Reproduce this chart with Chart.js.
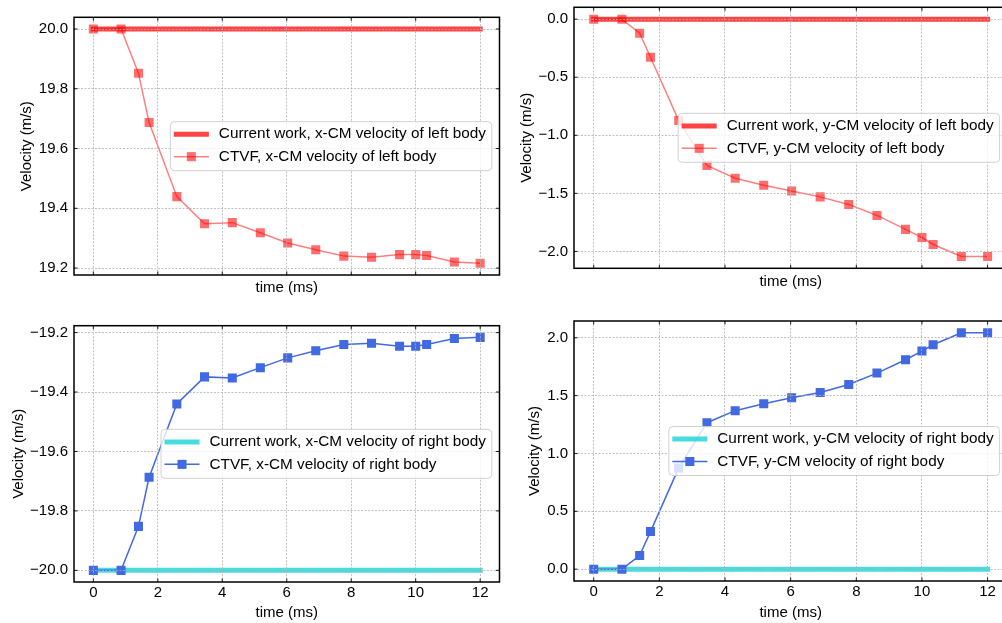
<!DOCTYPE html>
<html lang="en">
<head>
<meta charset="UTF-8" />
<title>CM velocity: current work vs CTVF</title>
<script src="https://cdn.jsdelivr.net/npm/chart.js@4.4.1/dist/chart.umd.min.js"></script>
<style>
  body { margin: 0; background: #fff; overflow: hidden; }
  #wrap { position: relative; width: 1002px; height: 623px; overflow: hidden; }
  canvas { position: absolute; }
</style>
</head>
<body>
<div id="wrap">
  <canvas id="tl" width="502" height="300" style="left:0;top:0;width:502px;height:300px"></canvas>
  <canvas id="tr" width="510" height="300" style="left:500px;top:0;width:510px;height:300px"></canvas>
  <canvas id="bl" width="502" height="323" style="left:0;top:300px;width:502px;height:323px"></canvas>
  <canvas id="br" width="510" height="323" style="left:500px;top:300px;width:510px;height:323px"></canvas>
</div>
<script>
// sample times (ms) of the CTVF runs
const times = [0, 0.86, 1.4, 1.73, 2.59, 3.45, 4.31, 5.18, 6.03, 6.9, 7.77, 8.63, 9.5, 10.0, 10.34, 11.2, 12.0];

// CTVF velocities (m/s)
const xLeftCTVF  = [20.0, 20.0, 19.852, 19.687, 19.439, 19.348, 19.352, 19.318, 19.284, 19.261, 19.240, 19.236, 19.245, 19.245, 19.242, 19.220, 19.216];
const yLeftCTVF  = [0.0, 0.0, -0.121, -0.328, -0.873, -1.26, -1.37, -1.43, -1.48, -1.53, -1.595, -1.69, -1.81, -1.88, -1.94, -2.043, -2.043];
const xRightCTVF = [-20.0, -20.0, -19.852, -19.687, -19.440, -19.349, -19.353, -19.318, -19.285, -19.261, -19.240, -19.236, -19.246, -19.246, -19.240, -19.220, -19.216];
const yRightCTVF = [0.0, 0.0, 0.118, 0.325, 0.875, 1.266, 1.37, 1.43, 1.482, 1.528, 1.597, 1.695, 1.81, 1.885, 1.94, 2.043, 2.043];

// current work (constant over the run)
const currentTimes  = [0, 12];
const xLeftCurrent  = [20.0, 20.0];
const yLeftCurrent  = [0.0, 0.0];
const xRightCurrent = [-20.0, -20.0];
const yRightCurrent = [0.0, 0.0];

// tick labels
const xTicks = [0, 2, 4, 6, 8, 10, 12];
const yTicksTL = [19.2, 19.4, 19.6, 19.8, 20.0];
const yTicksTR = [-2.0, -1.5, -1.0, -0.5, 0.0];
const yTicksBL = [-20.0, -19.8, -19.6, -19.4, -19.2];
const yTicksBR = [0.0, 0.5, 1.0, 1.5, 2.0];

const FONT = '"Liberation Sans", Arial, Helvetica, sans-serif';
Chart.defaults.font.family = FONT;
Chart.defaults.font.size = 15;
Chart.defaults.color = '#000';

const RED_THICK = 'rgba(255,0,0,0.74)';
const RED_LINE = 'rgba(255,0,0,0.5)';
const RED_MARK = 'rgba(255,0,0,0.57)';
const BLUE = 'rgb(65,105,225)';
const CYAN_THICK = 'rgba(0,206,209,0.72)';

// frame + inward ticks like matplotlib, then the legend box on top
const framePlugin = {
  id: 'frame',
  afterDraw(chart) {
    const ctx = chart.ctx;
    const a = chart.chartArea;
    const xs = chart.scales.x, ys = chart.scales.y;
    ctx.save();
    ctx.strokeStyle = '#000';
    ctx.lineWidth = 0.9;
    ctx.beginPath();
    xs.ticks.forEach(t => {
      const p = xs.getPixelForValue(t.value);
      ctx.moveTo(p, a.bottom); ctx.lineTo(p, a.bottom - 3.5);
      ctx.moveTo(p, a.top); ctx.lineTo(p, a.top + 3.5);
    });
    ys.ticks.forEach(t => {
      const p = ys.getPixelForValue(t.value);
      ctx.moveTo(a.left, p); ctx.lineTo(a.left + 3.5, p);
      ctx.moveTo(a.right, p); ctx.lineTo(a.right - 3.5, p);
    });
    ctx.stroke();
    ctx.lineWidth = 1.5;
    ctx.strokeRect(a.left, a.top, a.right - a.left, a.bottom - a.top);

    // legend, center right
    const ds = chart.data.datasets;
    ctx.font = '15.3px ' + FONT;
    const tw = Math.max(...ds.map(d => ctx.measureText(d.label).width));
    const w = 3.5 + 35 + 10 + tw + 6, h = 49;
    const right = a.right - 7.7;
    const left = right - w;
    const top = (a.top + a.bottom) / 2 - h / 2;
    ctx.beginPath();
    ctx.roundRect(left, top, w, h, 4);
    ctx.fillStyle = 'rgba(255,255,255,0.8)';
    ctx.fill();
    ctx.lineWidth = 1;
    ctx.strokeStyle = 'rgba(204,204,204,0.9)';
    ctx.stroke();
    ds.forEach((d, i) => {
      const y = top + 12.6 + i * 22.4;
      const x0 = left + 3.5, x1 = x0 + 35;
      ctx.beginPath();
      ctx.lineWidth = d.borderWidth;
      ctx.strokeStyle = d.borderColor;
      ctx.moveTo(x0, y); ctx.lineTo(x1, y);
      ctx.stroke();
      if (d.pointRadius > 0) {
        const s = d.pointRadius * Math.SQRT1_2;
        ctx.fillStyle = d.pointBackgroundColor;
        ctx.fillRect((x0 + x1) / 2 - s, y - s, 2 * s, 2 * s);
      }
      ctx.fillStyle = '#000';
      ctx.textBaseline = 'middle';
      ctx.textAlign = 'left';
      ctx.fillText(d.label, x1 + 10, y);
    });
    ctx.restore();
  }
};

function fmt(v) {
  return (v < 0 ? '\u2212' : '') + Math.abs(v).toFixed(1);
}

function panel(id, o) {
  const pts = (xs, ys) => xs.map((x, i) => ({ x: x, y: ys[i] }));
  const all = o.current.concat(o.ctvf);
  const lo = Math.min(...all), hi = Math.max(...all), m = (hi - lo) * 0.05;
  const canvas = document.getElementById(id);
  const H = canvas.height;
  new Chart(canvas, {
    type: 'line',
    data: {
      datasets: [
        {
          label: o.labels[0],
          data: pts(currentTimes, o.current),
          borderColor: o.thick,
          borderWidth: 5,
          borderCapStyle: 'square',
          pointRadius: 0,
          order: 1
        },
        {
          label: o.labels[1],
          data: pts(times, o.ctvf),
          borderColor: o.line,
          borderWidth: 1.5,
          pointStyle: 'rect',
          pointRadius: 6.4,
          pointBackgroundColor: o.mark,
          pointBorderWidth: 0,
          order: 0
        }
      ]
    },
    options: {
      responsive: false,
      animation: false,
      devicePixelRatio: 1,
      layout: { autoPadding: false, padding: { left: 0, top: o.top, right: o.padRight, bottom: 0 } },
      plugins: { legend: { display: false }, tooltip: { enabled: false } },
      scales: {
        x: {
          type: 'linear',
          min: -0.6,
          max: 12.6,
          afterBuildTicks: s => { s.ticks = xTicks.map(v => ({ value: v })); },
          afterFit: s => {
            s.height = H - o.top - o.plotH;
            s.paddingLeft = s.paddingRight = s.paddingTop = s.paddingBottom = 0;
          },
          ticks: { display: o.showX, padding: 2, color: '#000', callback: v => String(v) },
          grid: { color: '#b0b0b0', lineWidth: 0.8, drawTicks: false, z: 1 },
          border: { display: false, dash: [2, 1.5] },
          title: { display: true, text: 'time (ms)', color: '#000', padding: { top: 0, bottom: o.xTitlePad } }
        },
        y: {
          type: 'linear',
          min: lo - m,
          max: hi + m,
          afterBuildTicks: s => { s.ticks = o.yTicks.map(v => ({ value: v })); },
          afterFit: s => {
            s.width = 74;
            s.paddingLeft = s.paddingRight = s.paddingTop = s.paddingBottom = 0;
          },
          ticks: { padding: 6, color: '#000', callback: v => fmt(v) },
          grid: { color: '#b0b0b0', lineWidth: 0.8, drawTicks: false, z: 1 },
          border: { display: false, dash: [2, 1.5] },
          title: { display: true, text: 'Velocity (m/s)', color: '#000', padding: { top: o.yTitlePad, bottom: 0 } }
        }
      }
    },
    plugins: [framePlugin]
  });
}

panel('tl', {
  current: xLeftCurrent, ctvf: xLeftCTVF, yTicks: yTicksTL,
  labels: ['Current work, x-CM velocity of left body', 'CTVF, x-CM velocity of left body'],
  thick: RED_THICK, line: RED_LINE, mark: RED_MARK,
  top: 17.3, plotH: 257.7, padRight: 2.5, showX: false, xTitlePad: 3, yTitlePad: 18
});
panel('tr', {
  current: yLeftCurrent, ctvf: yLeftCTVF, yTicks: yTicksTR,
  labels: ['Current work, y-CM velocity of left body', 'CTVF, y-CM velocity of left body'],
  thick: RED_THICK, line: RED_LINE, mark: RED_MARK,
  top: 7.3, plotH: 261, padRight: 2.7, showX: false, xTitlePad: 9, yTitlePad: 18
});
panel('bl', {
  current: xRightCurrent, ctvf: xRightCTVF, yTicks: yTicksBL,
  labels: ['Current work, x-CM velocity of right body', 'CTVF, x-CM velocity of right body'],
  thick: CYAN_THICK, line: BLUE, mark: BLUE,
  top: 25.7, plotH: 256.3, padRight: 2.5, showX: true, xTitlePad: 1, yTitlePad: 9.5
});
panel('br', {
  current: yRightCurrent, ctvf: yRightCTVF, yTicks: yTicksBR,
  labels: ['Current work, y-CM velocity of right body', 'CTVF, y-CM velocity of right body'],
  thick: CYAN_THICK, line: BLUE, mark: BLUE,
  top: 21, plotH: 260, padRight: 2.7, showX: true, xTitlePad: 1, yTitlePad: 26
});
</script>
</body>
</html>
